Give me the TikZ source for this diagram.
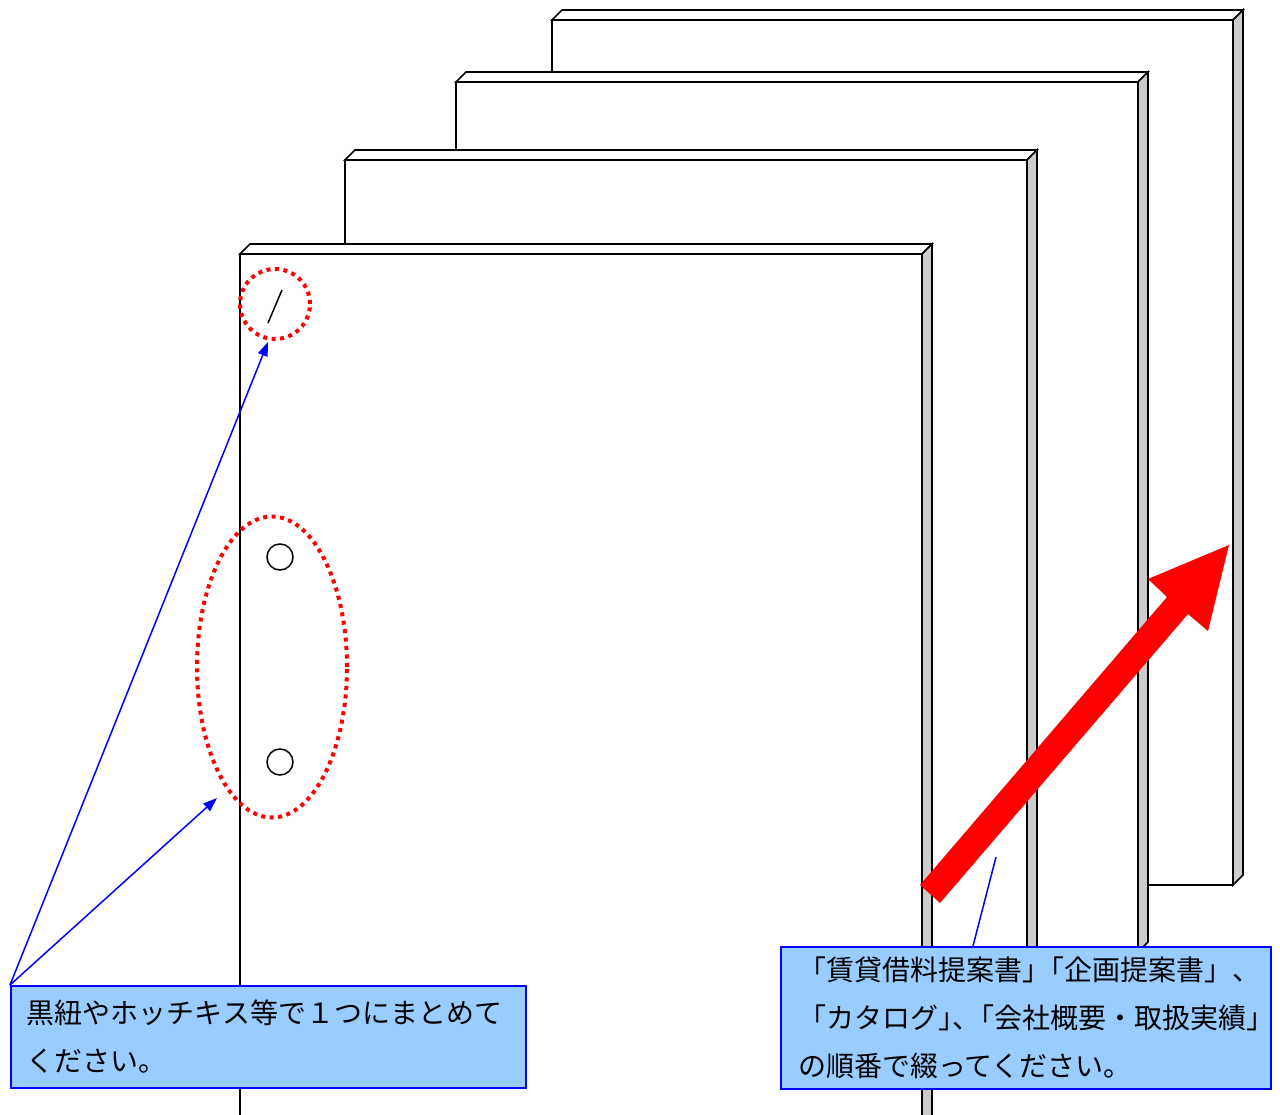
\documentclass[tikz,border=0pt]{standalone}
\usepackage{fontspec}
\newfontfamily\cjk{Noto Sans CJK JP}
\usetikzlibrary{arrows.meta,shapes.geometric}
\definecolor{sidegray}{RGB}{204,204,204}
\definecolor{boxblue}{RGB}{153,204,255}
\definecolor{lineblue}{RGB}{0,0,255}
\definecolor{redmark}{RGB}{255,0,0}
\tikzset{
  board/.style={draw=black, line width=1.6pt, fill=white, line join=miter},
  boardside/.style={board, fill=sidegray},
  reddots/.style={draw=redmark, line width=4pt, dash pattern=on 4pt off 4.5pt, inner sep=0pt},
  hole/.style={circle, draw=black, line width=1.5pt, minimum size=26pt, inner sep=0pt},
  bluearrow/.style={draw=lineblue, line width=1.5pt, -{Triangle[length=14pt,width=10pt]}},
  blueline/.style={draw=lineblue, line width=1.5pt},
  callout/.style={draw=lineblue, line width=2pt, fill=boxblue, anchor=north west,
    align=left, inner ysep=0pt, font=\cjk\fontsize{28pt}{48pt}\selectfont},
}
\newcommand\drawboard[4]{%
  \filldraw[board] (#1,#2) rectangle (#3,#4);
  \filldraw[board] (#1,#2) -- ({#1+10},{#2-10}) -- ({#3+10},{#2-10}) -- (#3,#2) -- cycle;
  \filldraw[boardside] (#3,#2) -- ({#3+10},{#2-10}) -- ({#3+10},{#4-10}) -- (#3,#4) -- cycle;
}
\begin{document}
\begin{tikzpicture}[x=1pt,y=-1pt]
\clip (0,0) rectangle (1280,1115);
\fill[white] (0,0) rectangle (1280,1115);
% boards, back to front
\drawboard{552}{20}{1233}{885}
\drawboard{456}{82}{1138}{952}
\drawboard{345}{160}{1027}{1025}
\drawboard{240}{254}{922}{1125}
% red block arrow
\fill[redmark] (920,885) -- (1167,597) -- (1148,579) -- (1229,545) -- (1208,631) -- (1188,614) -- (940,903) -- cycle;
% marks on the front board
\node[reddots, circle, minimum size=70pt] (ring) at (275,304) {};
\draw[line width=1.5pt] (268,323) -- (282,290);
\node[reddots, ellipse, minimum width=150pt, minimum height=301pt] (oval) at (272,667) {};
\node[hole] (hole1) at (280,557) {};
\node[hole] (hole2) at (280,762) {};
% callout boxes
\node[callout, minimum width=515pt, minimum height=102pt, text width=483pt, inner xsep=16pt] (cb1) at (10,985)
  {黒紐やホッチキス等で１つにまとめて\\ください。};
\node[callout, minimum width=490pt, minimum height=142pt, text width=456pt, inner xsep=17pt] (cb2) at (780,946)
  {「賃貸借料提案書」\kern-0.5em「企画提案書」、\\「カタログ」\kern-0.5em、\kern-0.5em「会社概要・取扱実績」\\の順番で綴ってください。};
% connectors
\coordinate (tipA) at (268,342);
\coordinate (tipB) at (217,798);
\coordinate (lineend) at (996,857);
\draw[bluearrow] (cb1.north west) -- (tipA);
\draw[bluearrow] (cb1.north west) -- (tipB);
\draw[blueline] ([xshift=193pt]cb2.north west) -- (lineend);
\end{tikzpicture}
\end{document}
